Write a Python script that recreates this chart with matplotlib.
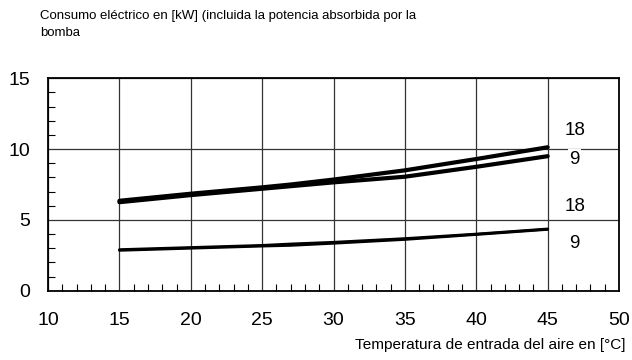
import matplotlib
matplotlib.use("Agg")
import matplotlib.pyplot as plt
from matplotlib.ticker import MultipleLocator

plt.rcParams['font.family'] = ['Liberation Sans', 'DejaVu Sans']

# air inlet temperature [°C]
temp = [15, 20, 25, 27, 30, 35, 40, 45]

# electrical consumption [kW], upper pair and lower pair of curves
upper_18 = [6.35, 6.85, 7.3, 7.5, 7.85, 8.5, 9.3, 10.13]
upper_9 = [6.25, 6.75, 7.2, 7.38, 7.65, 8.05, 8.75, 9.5]
lower_18 = [2.9, 3.05, 3.2, 3.3, 3.42, 3.68, 4.0, 4.36]
lower_9 = [2.85, 3.0, 3.15, 3.2, 3.35, 3.62, 3.97, 4.33]

labels = ['18', '9', '18', '9']
label_y = [11.3, 9.3, 5.95, 3.35]

fig = plt.figure(figsize=(6.32, 3.6), dpi=100)
ax = fig.add_axes([0.076, 0.1925, 0.9035, 0.59])

ax.plot(temp, upper_18, color='black', lw=3.0, solid_capstyle='round')
ax.plot(temp, upper_9, color='black', lw=3.0, solid_capstyle='round')
ax.plot(temp, lower_18, color='black', lw=2.0, solid_capstyle='round')
ax.plot(temp, lower_9, color='black', lw=2.0, solid_capstyle='round')

for txt, yv in zip(labels, label_y):
    ax.text(46.9, yv, txt, ha='center', va='center', fontsize=13.5,
            bbox=dict(facecolor='white', edgecolor='none', pad=1))

ax.set_xlim(10, 50)
ax.set_ylim(0, 15)
ax.xaxis.set_major_locator(MultipleLocator(5))
ax.yaxis.set_major_locator(MultipleLocator(5))
ax.xaxis.set_minor_locator(MultipleLocator(1))
ax.yaxis.set_minor_locator(MultipleLocator(1))
ax.tick_params(which='major', length=0, labelsize=14)
ax.tick_params(axis='x', which='major', pad=15)
ax.tick_params(axis='y', which='major', pad=13)
ax.tick_params(which='minor', direction='in', length=5, width=0.8)
ax.tick_params(axis='x', which='minor', top=False)
ax.tick_params(axis='y', which='minor', right=False)
ax.grid(which='major', color='#333333', lw=0.9)
for s in ax.spines.values():
    s.set_linewidth(1.3)

fig.text(0.063, 0.972, 'Consumo eléctrico en [kW] (incluida la potencia absorbida por la\nbomba',
         ha='left', va='top', fontsize=9.5, linespacing=1.55)
fig.text(0.989, 0.042, 'Temperatura de entrada del aire en [°C]', ha='right', va='center',
         fontsize=11.1)

fig.savefig('out.png', dpi=100)
